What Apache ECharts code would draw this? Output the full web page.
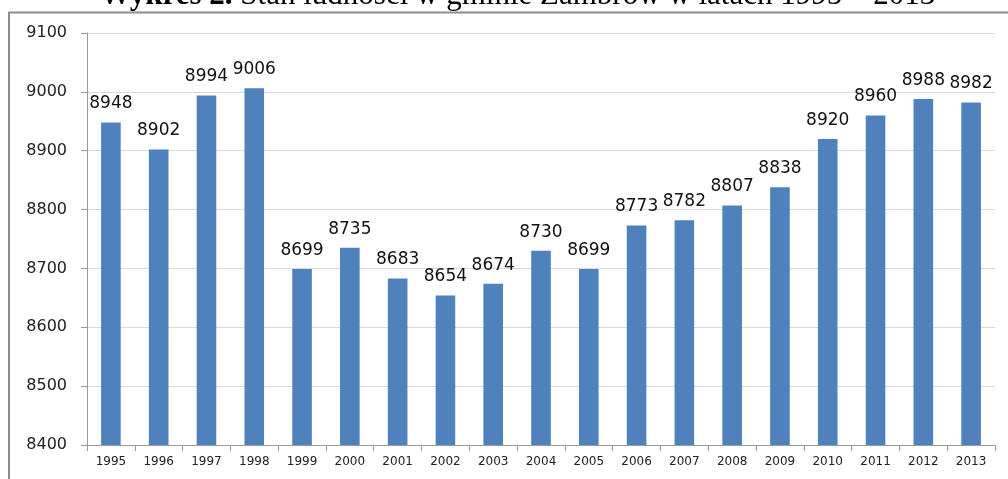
<!DOCTYPE html>
<html>
<head>
<meta charset="utf-8">
<script src="https://cdn.jsdelivr.net/npm/echarts@6/dist/echarts.min.js"></script>
<style>
  html, body { margin: 0; padding: 0; background: #fff; }
  #chart { width: 1008px; height: 479px; }
</style>
</head>
<body>
<div id="chart"></div>
<script>
// lata i liczba ludności
const years = ['1995', '1996', '1997', '1998', '1999', '2000', '2001', '2002', '2003', '2004',
  '2005', '2006', '2007', '2008', '2009', '2010', '2011', '2012', '2013'];
const population = [8948, 8902, 8994, 9006, 8699, 8735, 8683, 8654, 8674, 8730,
  8699, 8773, 8782, 8807, 8838, 8920, 8960, 8988, 8982];
const yMin = 8400;
const yMax = 9100;
const yStep = 100;

const chart = echarts.init(document.getElementById('chart'));

const option = {
  animation: false,
  // tytuł (ucięty u góry) i ramka wykresu
  graphic: [
    {
      type: 'text',
      left: 100,
      top: -20,
      style: {
        text: '{b|Wykres 2.} Stan ludności w gminie Zambrów w latach 1995 – 2013',
        font: '31px "Liberation Serif"',
        fill: '#000',
        rich: {
          b: { font: 'bold 31px "Liberation Serif"', fill: '#000' }
        }
      }
    },
    {
      type: 'polyline',
      shape: { points: [[9, 479], [9, 12.5], [1008, 12.5]] },
      style: { stroke: '#8c8c8c', lineWidth: 2, fill: null }
    }
  ],
  grid: { left: 87, right: 13, top: 33, bottom: 34 },
  xAxis: {
    type: 'category',
    data: years,
    axisLine: { lineStyle: { color: '#9a9a9a' } },
    axisTick: { show: true, length: 6, lineStyle: { color: '#9a9a9a' } },
    axisLabel: { color: '#222', fontSize: 12, fontFamily: 'DejaVu Sans', margin: 11 }
  },
  yAxis: {
    type: 'value',
    min: yMin,
    max: yMax,
    interval: yStep,
    axisLine: { show: true, lineStyle: { color: '#9a9a9a' } },
    axisTick: { show: true, length: 6, lineStyle: { color: '#9a9a9a' } },
    axisLabel: {
      color: '#222',
      fontSize: 16,
      fontFamily: 'DejaVu Sans',
      margin: 20,
      formatter: (v) => String(v)
    },
    splitLine: { lineStyle: { color: '#d9d9d9' } }
  },
  series: [
    {
      type: 'bar',
      data: population,
      barWidth: '41%',
      itemStyle: { color: '#4f81bd' },
      label: {
        show: true,
        position: 'top',
        distance: 10,
        color: '#111',
        fontSize: 17,
        fontFamily: 'DejaVu Sans'
      }
    }
  ]
};

chart.setOption(option);
</script>
</body>
</html>
